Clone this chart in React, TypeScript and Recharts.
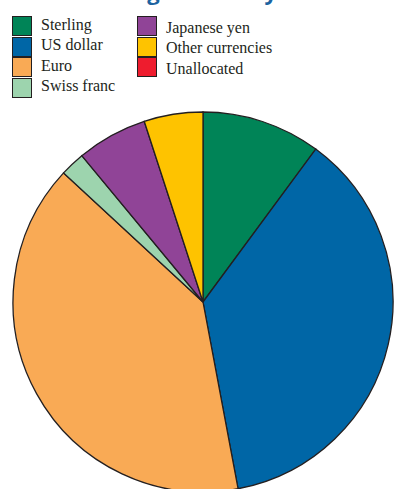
import { PieChart, Pie, Cell } from 'recharts'

const currencies = ['Sterling', 'US dollar', 'Euro', 'Swiss franc', 'Japanese yen', 'Other currencies', 'Unallocated']
const shares = [10.1, 36.9, 39.8, 2.1, 6.0, 5.0, 0]
const colors = ['#008457', '#0066a6', '#f9aa55', '#9dd4ae', '#904497', '#fec300', '#ee1c2e']

const data = currencies.map((name, i) => ({ name, value: shares[i] })).filter((d) => d.value > 0)

const ink = '#231f20'

function LegendItem({ i, left, top, textShift }: { i: number; left: number; top: number; textShift: number }) {
  return (
    <>
      <div
        style={{
          position: 'absolute', left, top, width: 20, height: 20, boxSizing: 'border-box',
          border: `1.5px solid ${ink}`, background: colors[i],
        }}
      />
      <div
        style={{
          position: 'absolute', left: left + 29, top: top + textShift, fontFamily: '"Liberation Serif", serif',
          fontSize: 16, lineHeight: '16px', color: ink, whiteSpace: 'nowrap',
        }}
      >
        {currencies[i]}
      </div>
    </>
  )
}

export default function App() {
  const rows = [16, 36.5, 57, 77.5]
  return (
    <div style={{ position: 'absolute', left: 0, top: 0, width: 394, height: 489, overflow: 'hidden', background: '#fff' }}>
      {/* title, only its lower edge shows in the crop */}
      <div
        style={{
          position: 'absolute', left: 4, top: -21, fontFamily: '"Open Sans", sans-serif', fontWeight: 700,
          fontSize: 22, lineHeight: '24px', color: '#1d63a0', whiteSpace: 'nowrap',
        }}
      >
        Chart A Foreign currency reserves
      </div>
      {[0, 1, 2, 3].map((i) => (
        <LegendItem key={i} i={i} left={12} top={rows[i]} textShift={0.5} />
      ))}
      {[4, 5, 6].map((i) => (
        <LegendItem key={i} i={i} left={137} top={rows[i - 4]} textShift={3.5} />
      ))}
      <div style={{ position: 'absolute', left: 0, top: 0 }}>
        <PieChart width={394} height={489} margin={{ top: 0, right: 0, bottom: 0, left: 0 }}>
          <Pie
            data={data}
            dataKey="value"
            nameKey="name"
            cx={203}
            cy={302}
            outerRadius={190}
            innerRadius={0}
            startAngle={90}
            endAngle={-270}
            stroke={ink}
            strokeWidth={1.3}
            isAnimationActive={false}
          >
            {data.map((d) => (
              <Cell key={d.name} fill={colors[currencies.indexOf(d.name)]} />
            ))}
          </Pie>
        </PieChart>
      </div>
    </div>
  )
}
